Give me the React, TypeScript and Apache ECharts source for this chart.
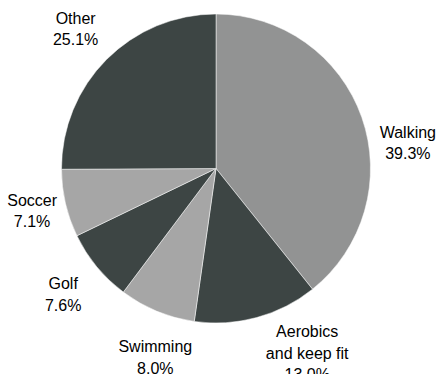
import React, { useEffect, useRef } from "react";
import * as echarts from "echarts";

const categories = ["Walking", "Aerobics\nand keep fit", "Swimming", "Golf", "Soccer", "Other"];
const shares = [39.3, 13.0, 8.0, 7.6, 7.1, 25.1];
const sliceColors = ["#929393", "#3d4544", "#a6a6a6", "#3d4544", "#a6a6a6", "#3d4544"];
const labelOffsets: Array<[number, number]> = [[5, 40], [39, -6], [15, 6], [0, 0], [9, -2], [0, 0]];

export default function App() {
  const ref = useRef<HTMLDivElement>(null);
  useEffect(() => {
    if (!ref.current) return;
    const chart = echarts.init(ref.current, null, { renderer: "svg" });
    const center = [216, 168.5];
    chart.setOption({
      animation: false,
      backgroundColor: "#ffffff",
      series: [
        {
          type: "pie",
          center,
          radius: 154.5,
          startAngle: 90,
          clockwise: true,
          silent: true,
          label: { show: false },
          labelLine: { show: false },
          itemStyle: { borderColor: "#ffffff", borderWidth: 0.5 },
          data: categories.map((name, i) => ({
            name,
            value: shares[i],
            itemStyle: { color: sliceColors[i] },
          })),
        },
        {
          type: "pie",
          center,
          radius: [190, 200],
          startAngle: 90,
          clockwise: true,
          silent: true,
          itemStyle: { color: "transparent" },
          labelLine: { show: false },
          label: {
            show: true,
            position: "inside",
            fontFamily: "Liberation Sans, Arial, sans-serif",
            fontSize: 16,
            lineHeight: 21.5,
            color: "#000000",
            align: "center",
            formatter: (p: any) => `${p.name}\n${Number(p.value).toFixed(1)}%`,
          },
          data: categories.map((name, i) => ({
            name,
            value: shares[i],
            label: { offset: labelOffsets[i] },
          })),
        },
      ],
    });
    return () => chart.dispose();
  }, []);
  return (
    <div
      ref={ref}
      style={{ position: "fixed", left: 0, top: 0, width: 436, height: 374 }}
    />
  );
}
